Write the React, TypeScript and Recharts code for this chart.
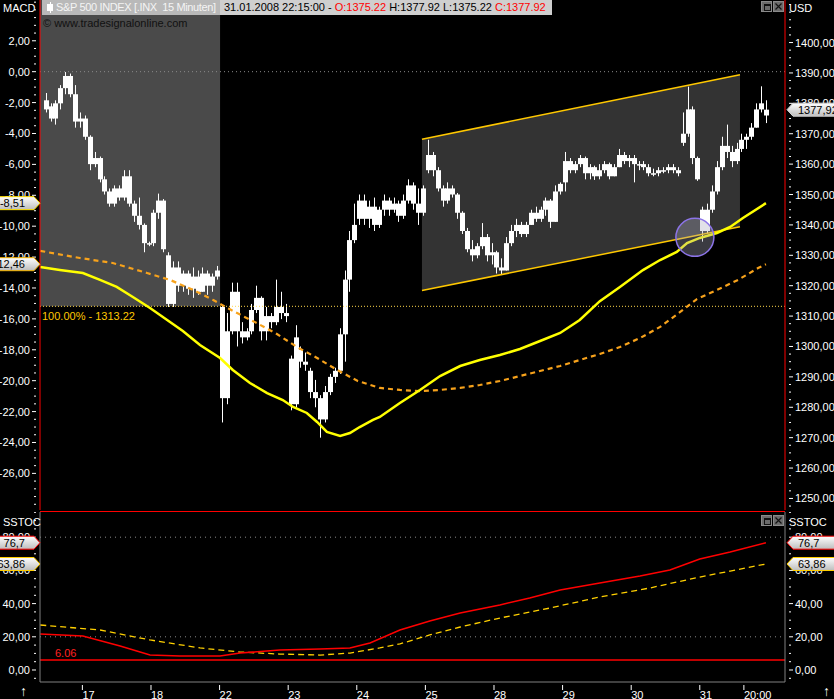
import React from "react";
import {
  ComposedChart,
  Bar,
  Line,
  Area,
  XAxis,
  YAxis,
  ReferenceLine,
  ReferenceArea,
  ReferenceDot,
} from "recharts";

type Ohlc = [number, number, number, number];

// 30 minute bars (open, high, low, close), one array per trading day
const bars16: Ohlc[] = [
  [1378, 1383.4, 1377, 1381], [1379, 1380, 1374, 1375], [1375, 1381, 1373, 1380], [1380, 1386, 1378, 1385],
  [1385, 1390.3, 1383, 1389], [1389, 1389.8, 1382, 1383], [1383, 1386, 1372, 1374], [1374, 1377, 1372, 1375],
];
const bars17: Ohlc[] = [
  [1375, 1376, 1368, 1369], [1369, 1369.5, 1358, 1360], [1360, 1364, 1359, 1362], [1362, 1362.5, 1354, 1355],
  [1355, 1356, 1350, 1351], [1351, 1352, 1346, 1347], [1347, 1353, 1346, 1352], [1352, 1353, 1348, 1349],
  [1349, 1358, 1348, 1356], [1356, 1358, 1346, 1347], [1347, 1348, 1341, 1343], [1343, 1349, 1338.5, 1340],
  [1340, 1340.5, 1331, 1334], [1334, 1334.5, 1333, 1333.5],
];
const bars18: Ohlc[] = [
  [1334, 1345, 1333, 1344], [1344, 1350.3, 1342, 1348], [1348, 1348.5, 1331, 1332], [1330, 1331, 1313, 1314],
  [1314, 1328, 1313, 1326], [1326, 1328, 1318, 1320], [1320, 1325, 1318, 1324], [1324, 1325, 1317, 1319],
  [1319, 1326, 1316, 1323], [1323, 1325, 1317, 1318], [1318, 1326, 1318, 1324], [1324, 1325, 1317, 1320],
  [1320, 1324, 1318, 1323], [1323, 1326.5, 1322, 1325],
];
const bars22: Ohlc[] = [
  [1313, 1313.5, 1275, 1283], [1283, 1311, 1281, 1305], [1305, 1321, 1304, 1318], [1318, 1321, 1300, 1305],
  [1305, 1308, 1301, 1303], [1303, 1306, 1302, 1305], [1305, 1314, 1304, 1312], [1312, 1320, 1311, 1316],
  [1316, 1316.5, 1302, 1305], [1305, 1313, 1302, 1310], [1310, 1311, 1306, 1308], [1308, 1322, 1307, 1313],
  [1313, 1318, 1309, 1311], [1311, 1314, 1308, 1310],
];
const bars23: Ohlc[] = [
  [1296, 1297, 1279, 1281], [1281, 1307, 1280, 1303], [1299, 1300, 1293, 1295], [1295, 1298, 1292, 1294],
  [1292, 1293, 1283, 1285], [1285, 1289, 1280, 1283], [1283, 1284, 1270, 1276], [1276, 1287, 1275, 1285],
  [1285, 1291, 1284, 1290], [1290, 1293, 1288, 1292], [1292, 1306, 1291, 1304], [1304, 1325, 1295, 1322],
  [1322, 1338, 1318, 1335], [1335, 1347, 1334, 1340],
];
const bars24: Ohlc[] = [
  [1342, 1350, 1340, 1348], [1348, 1350, 1340, 1342], [1342, 1348, 1339, 1346], [1346, 1349, 1338, 1340],
  [1340, 1346, 1339, 1345], [1345, 1350, 1343, 1348], [1348, 1349, 1343, 1345], [1345, 1349, 1344, 1347],
  [1347, 1348, 1341, 1343], [1343, 1350, 1342, 1348], [1348, 1355, 1347, 1353], [1353, 1354, 1345, 1347],
  [1347, 1352, 1340, 1344], [1344, 1353, 1343, 1352],
];
const bars25: Ohlc[] = [
  [1358, 1368, 1357, 1363], [1363, 1364, 1356, 1358], [1358, 1359, 1351, 1352], [1352, 1353, 1346, 1348],
  [1348, 1354, 1347, 1352], [1352, 1353, 1349, 1350], [1350, 1350.5, 1342, 1344], [1344, 1344.5, 1337, 1338],
  [1338, 1339, 1331, 1332], [1332, 1335, 1328, 1330], [1330, 1334, 1329, 1333], [1333, 1340.6, 1332, 1336],
  [1336, 1337, 1328, 1330], [1330, 1334, 1327, 1331],
];
const bars28: Ohlc[] = [
  [1331, 1331.5, 1324, 1326], [1326, 1329, 1323.5, 1325], [1325, 1336, 1325, 1334], [1334, 1340, 1333, 1338],
  [1338, 1342, 1336, 1340], [1340, 1341, 1336, 1337], [1337, 1341, 1336, 1340], [1340, 1345, 1340, 1344],
  [1344, 1346, 1341, 1342], [1342, 1346, 1341, 1345], [1345, 1349, 1343, 1348], [1348, 1348.5, 1339, 1341],
  [1341, 1353, 1341, 1351], [1351, 1354, 1350, 1353.5],
];
const bars29: Ohlc[] = [
  [1354, 1364, 1351, 1361], [1361, 1362, 1357, 1358], [1358, 1361, 1357, 1360], [1360, 1363, 1359, 1362],
  [1362, 1362.5, 1355, 1357], [1357, 1360, 1355, 1359], [1359, 1359.5, 1354.8, 1356], [1356, 1360, 1355, 1358],
  [1358, 1361, 1357, 1360], [1360, 1360.5, 1355, 1356], [1356, 1360, 1356, 1359], [1359, 1365, 1359, 1363],
  [1363, 1364, 1360, 1361], [1361, 1363, 1359, 1362],
];
const bars30: Ohlc[] = [
  [1362, 1363, 1354, 1360], [1360, 1361, 1358, 1360], [1360, 1361, 1358, 1359], [1359, 1360, 1356, 1357],
  [1357, 1358.5, 1356, 1357], [1357, 1359, 1356, 1358], [1358, 1359, 1357, 1358], [1358, 1360, 1357, 1359],
  [1359, 1360, 1357, 1358], [1358, 1359, 1356, 1357], [1367, 1377, 1366, 1370], [1370, 1385.5, 1369, 1378],
  [1378, 1379, 1360, 1362], [1362, 1362.5, 1354.5, 1355],
];
const bars31: Ohlc[] = [
  [1345, 1346, 1334.5, 1338], [1338, 1347, 1337, 1345], [1345, 1353, 1344, 1351], [1351, 1361, 1350, 1359],
  [1359, 1369, 1358, 1366], [1366, 1373, 1362, 1364], [1364, 1366, 1359, 1361], [1361, 1367, 1360, 1365],
  [1365, 1370, 1364, 1368], [1368, 1370, 1365, 1369], [1369, 1373.5, 1368, 1372], [1372, 1380, 1372, 1378],
  [1378, 1385.6, 1377, 1380], [1376, 1381, 1373.5, 1377.92],
];
const dayBars = [bars16, bars17, bars18, bars22, bars23, bars24, bars25, bars28, bars29, bars30, bars31];
const FIRST_SLOT = 6; // first bar of the 16th sits in slot 6 of 14

// MACD and its signal, [bar position, value]
const macdLine: [number, number][] = [
  [4.9, -12.64], [8.9, -12.83], [13.6, -13.03], [17.1, -13.48], [20.5, -13.93], [23.8, -14.58], [27.3, -15.3],
  [30.8, -16.07], [34.0, -16.78], [37.5, -17.69], [41.6, -18.53], [44.2, -19.31], [47.7, -20.15], [51.2, -20.8],
  [54.4, -21.25], [56.5, -21.7], [59.3, -22.09], [61.4, -22.67], [63.4, -23.32], [66.1, -23.58], [68.1, -23.39],
  [70.1, -23.0], [72.8, -22.54], [74.2, -22.35], [78.3, -21.44], [82.4, -20.6], [86.5, -19.7], [90.6, -19.05],
  [94.6, -18.66], [98.7, -18.34], [102.8, -17.95], [106.9, -17.43], [111.0, -16.91], [115.0, -16.07],
  [119.1, -14.85], [123.2, -13.93], [127.9, -12.84], [131.4, -12.19], [134.8, -11.67], [136.9, -11.09],
  [139.5, -10.76], [143.0, -10.44], [145.7, -10.05], [148.3, -9.47], [153.0, -8.51],
];
const macdSignal: [number, number][] = [
  [4.9, -11.6], [13.0, -12.06], [19.7, -12.38], [26.7, -13.03], [31.4, -13.48], [36.1, -14.13], [40.2, -14.78],
  [44.6, -15.55], [49.1, -16.27], [53.2, -16.98], [57.3, -17.82], [61.4, -18.53], [65.5, -19.31], [69.7, -20.02],
  [74.2, -20.47], [78.3, -20.6], [82.4, -20.67], [86.5, -20.6], [90.6, -20.47], [94.6, -20.28], [98.7, -20.02],
  [102.8, -19.7], [106.9, -19.37], [111.0, -19.05], [115.0, -18.66], [119.1, -18.27], [123.2, -17.82],
  [127.3, -17.24], [131.4, -16.52], [135.5, -15.55], [138.9, -14.72], [143.0, -14.13], [147.3, -13.48],
  [151.4, -12.71], [153.0, -12.46],
];

// slow stochastic
const stochK: [number, number][] = [
  [4.9, 21.7], [13.6, 20.5], [21.2, 14.5], [27.3, 9.0], [33.4, 8.4], [41.6, 8.4], [45.7, 10.2], [53.8, 12.0],
  [62.0, 12.7], [68.1, 13.3], [72.2, 16.3], [78.3, 24.1], [84.4, 29.5], [90.6, 34.3], [98.7, 39.2], [104.8, 43.4],
  [111.0, 48.2], [119.1, 52.4], [127.3, 56.6], [133.4, 60.2], [139.5, 66.9], [145.7, 71.1], [153.0, 76.7],
];
const stochD: [number, number][] = [
  [4.9, 27.1], [17.1, 24.1], [27.3, 18.1], [37.5, 13.3], [45.7, 10.8], [53.8, 9.6], [62.0, 9.0], [68.1, 10.2],
  [74.2, 13.3], [78.3, 15.7], [84.4, 21.1], [90.6, 25.9], [98.7, 31.3], [108.9, 37.3], [119.1, 44.0],
  [129.3, 49.4], [139.5, 56.0], [145.7, 59.6], [153.0, 63.86],
];

const dayTickPos = [13.5, 27.5, 41.5, 55.5, 69.5, 83.5, 97.5, 111.5, 125.5, 139.5, 148.5];
const dayTickLabels = ["17", "18", "22", "23", "24", "25", "28", "29", "30", "31", "20:00"];

const macdLabels = [2, 0, -2, -4, -6, -8, -10, -12, -14, -16, -18, -20, -22, -24, -26];
const priceLabels = [1400, 1390, 1380, 1370, 1360, 1350, 1340, 1330, 1320, 1310, 1300, 1290, 1280, 1270, 1260, 1250];
const stochLabels = [80, 60, 40, 20, 0];

// drawings
const highlightEnd = 41.6;
const retraceLevel = 1313.22;
const channelTime = [82.8, 147.7];
const channelUpper = [1368.2, 1389.4];
const channelLower = [1318.4, 1339.4];
const touchPoint = { k: 138.5, price: 1335.9 };

const lastClose = 1377.92;
const macdLast = -8.51;
const signalLast = -12.46;
const stochKLast = 76.7;
const stochDLast = 63.86;
const stochFloor = 6.06;

const X_DOMAIN: [number, number] = [4.85, 156.89];
const PRICE_DOMAIN: [number, number] = [1246.2, 1414.0];
const MACD_DOMAIN: [number, number] = [-28.37, 4.64];
const STOCH_DOMAIN: [number, number] = [-7.23, 95.18];

const FONT = "'Liberation Sans', Arial, sans-serif";

const candles = dayBars.flat().map(([o, h, l, c], i) => ({ k: FIRST_SLOT + i, o, h, l, c }));
const toPoints = (rows: [number, number][]) => rows.map(([k, v]) => ({ k, v }));
const channelData = channelTime.map((k, i) => ({ k, band: [channelLower[i], channelUpper[i]] }));

function tickRange(from: number, to: number, step: number) {
  const out: number[] = [];
  for (let v = from; v <= to + 1e-9; v += step) out.push(Math.round(v * 100) / 100);
  return out;
}

const fmt = (v: number) => v.toFixed(2).replace(".", ",");
const raw = (v: number) => String(v).replace(".", ",");

function makeYTick(side: "left" | "right", labels: number[]) {
  return (props: any) => {
    const { x, y, payload } = props;
    const v = payload.value as number;
    const major = labels.includes(v);
    const dir = side === "left" ? -1 : 1;
    const len = major ? 4 : 2;
    return (
      <g>
        <line x1={x + dir * 2} x2={x + dir * (2 + len)} y1={y} y2={y} stroke="#fff" />
        {major && (
          <text
            x={x + dir * 8}
            y={y + 4}
            textAnchor={side === "left" ? "end" : "start"}
            fill="#fff"
            fontSize={11}
            fontFamily={FONT}
          >
            {fmt(v)}
          </text>
        )}
      </g>
    );
  };
}

function XTick(props: any) {
  const { x, y, payload } = props;
  const i = dayTickPos.indexOf(payload.value);
  return (
    <g>
      <line x1={x} x2={x} y1={y + 1} y2={y + 6} stroke="#fff" />
      <text x={x} y={y + 15} fill="#fff" fontSize={11} fontFamily={FONT}>
        {dayTickLabels[i]}
      </text>
    </g>
  );
}

function Candle(props: any) {
  const { x, y, width, height, payload } = props;
  if (x == null || y == null || !payload) return null;
  const top = Math.min(y, y + height);
  const bottom = Math.max(y, y + height);
  const { o, h, l, c } = payload;
  const span = h - l || 1;
  const toY = (v: number) => top + ((h - v) / span) * (bottom - top);
  const cx = Math.round(x + width / 2) + 0.5;
  const bTop = toY(Math.max(o, c));
  const bBot = toY(Math.min(o, c));
  return (
    <g>
      <line x1={cx} x2={cx} y1={top} y2={bottom} stroke="#fff" strokeWidth={1} />
      <rect x={cx - 2.5} y={bTop} width={5} height={Math.max(1.5, bBot - bTop)} fill="#fff" />
    </g>
  );
}

function marker(text: string, border: string, sides: { left?: boolean; right?: boolean }) {
  return (props: any) => {
    const vb = props.viewBox || {};
    const y = vb.y;
    const l = vb.x;
    const r = vb.x + vb.width;
    if (y == null) return null;
    return (
      <g>
        {sides.left && (
          <g>
            <path
              d={`M-2,${y - 6.5} H${l - 6} L${l},${y} L${l - 6},${y + 6.5} H-2 Z`}
              fill="url(#markerFill)"
              stroke={border}
            />
            <text x={25} y={y + 4} textAnchor="end" fontSize={11} fill="#000" fontFamily={FONT}>
              {text}
            </text>
          </g>
        )}
        {sides.right && (
          <g>
            <path
              d={`M840,${y - 6.5} H${r + 8} L${r + 2},${y} L${r + 8},${y + 6.5} H840 Z`}
              fill="url(#markerFill)"
              stroke={border}
            />
            <text x={r + 13} y={y + 4} fontSize={11} fill="#000" fontFamily={FONT}>
              {text}
            </text>
          </g>
        )}
      </g>
    );
  };
}

const MarkerDefs = () => (
  <defs>
    <linearGradient id="markerFill" x1="0" y1="0" x2="0" y2="1">
      <stop offset="0%" stopColor="#ffffff" />
      <stop offset="100%" stopColor="#bdbdbd" />
    </linearGradient>
  </defs>
);

function WinButtons({ top }: { top: number }) {
  const box: React.CSSProperties = {
    width: 11,
    height: 11,
    background: "#6b6b6b",
    border: "1px solid #8a8a8a",
    boxSizing: "border-box",
  };
  return (
    <div style={{ position: "absolute", left: 761, top, display: "flex", gap: 1 }}>
      <div style={box}>
        <div style={{ margin: "2px 0 0 2px", width: 5, height: 4, border: "1px solid #111", borderTopWidth: 2 }} />
      </div>
      <div style={box}>
        <svg width={9} height={9} style={{ display: "block" }}>
          <path d="M1.5,1.5 L7.5,7.5 M7.5,1.5 L1.5,7.5" stroke="#111" strokeWidth={1.2} />
        </svg>
      </div>
    </div>
  );
}

function MainChart() {
  return (
    <ComposedChart width={834} height={510} data={candles} margin={{ top: 0, right: 0, bottom: 0, left: 0 }}>
      <MarkerDefs />
      <XAxis dataKey="k" type="number" domain={X_DOMAIN} hide allowDataOverflow />
      <YAxis
        yAxisId="macd"
        orientation="left"
        width={40}
        domain={MACD_DOMAIN}
        ticks={tickRange(-28, 4.5, 0.5)}
        interval={0}
        tickSize={0}
        tickLine={false}
        axisLine={{ stroke: "#ff0000" }}
        tick={makeYTick("left", macdLabels)}
        allowDataOverflow
      />
      <YAxis
        yAxisId="price"
        orientation="right"
        width={49}
        domain={PRICE_DOMAIN}
        ticks={tickRange(1247.5, 1412.5, 2.5)}
        interval={0}
        tickSize={0}
        tickLine={false}
        axisLine={{ stroke: "#ff0000" }}
        tick={makeYTick("right", priceLabels)}
        allowDataOverflow
      />
      <ReferenceArea
        yAxisId="price"
        x1={X_DOMAIN[0]}
        x2={highlightEnd}
        y1={retraceLevel}
        y2={PRICE_DOMAIN[1]}
        fill="#4a4a4a"
        fillOpacity={1}
        stroke="none"
      />
      <Area
        yAxisId="price"
        data={channelData}
        dataKey="band"
        type="linear"
        fill="#333333"
        fillOpacity={1}
        stroke="none"
        isAnimationActive={false}
      />
      <ReferenceLine
        yAxisId="price"
        segment={[{ x: channelTime[0], y: channelUpper[0] }, { x: channelTime[1], y: channelUpper[1] }]}
        stroke="#ffc800"
        strokeWidth={1.5}
      />
      <ReferenceLine
        yAxisId="price"
        segment={[{ x: channelTime[0], y: channelLower[0] }, { x: channelTime[1], y: channelLower[1] }]}
        stroke="#ffc800"
        strokeWidth={1.5}
      />
      <ReferenceLine yAxisId="macd" y={0} stroke="#8a8a8a" strokeDasharray="1 3" />
      <ReferenceLine
        yAxisId="price"
        y={retraceLevel}
        stroke="#ffd84a"
        strokeDasharray="1 2"
        label={(p: any) => (
          <text x={p.viewBox.x + 2} y={p.viewBox.y + 14} fill="#ffc800" fontSize={11} fontFamily={FONT}>
            100.00% - 1313.22
          </text>
        )}
      />
      <ReferenceDot
        yAxisId="price"
        x={touchPoint.k}
        y={touchPoint.price}
        r={19}
        fill="rgba(170,170,190,0.35)"
        stroke="#8c74e8"
        strokeWidth={1.5}
      />
      <Bar
        yAxisId="price"
        dataKey={(d: any) => [d.l, d.h]}
        barSize={4}
        shape={Candle}
        isAnimationActive={false}
      />
      <Line
        yAxisId="macd"
        data={toPoints(macdSignal)}
        dataKey="v"
        type="linear"
        stroke="#f7a21b"
        strokeWidth={2.2}
        strokeDasharray="5 4"
        dot={false}
        isAnimationActive={false}
      />
      <Line
        yAxisId="macd"
        data={toPoints(macdLine)}
        dataKey="v"
        type="linear"
        stroke="#ffff00"
        strokeWidth={2.5}
        dot={false}
        isAnimationActive={false}
      />
      <ReferenceLine yAxisId="macd" y={macdLast} stroke="none" zIndex={2500} label={marker(raw(macdLast), "#ffe000", { left: true })} />
      <ReferenceLine yAxisId="macd" y={signalLast} stroke="none" zIndex={2500} label={marker(raw(signalLast), "#f5b400", { left: true })} />
      <ReferenceLine yAxisId="price" y={lastClose} stroke="none" zIndex={2500} label={marker(raw(lastClose), "#d8d8d8", { right: true })} />
    </ComposedChart>
  );
}

function StochChart() {
  return (
    <ComposedChart width={834} height={187} margin={{ top: 0, right: 0, bottom: 0, left: 0 }}>
      <MarkerDefs />
      <XAxis
        dataKey="k"
        type="number"
        domain={X_DOMAIN}
        ticks={dayTickPos}
        interval={0}
        height={17}
        tickSize={0}
        tickLine={false}
        axisLine={{ stroke: "#808080" }}
        tick={XTick}
        allowDataOverflow
      />
      <YAxis
        yAxisId="sl"
        orientation="left"
        width={40}
        domain={STOCH_DOMAIN}
        ticks={tickRange(-5, 95, 5)}
        interval={0}
        tickSize={0}
        tickLine={false}
        axisLine={{ stroke: "#808080" }}
        tick={makeYTick("left", stochLabels)}
        allowDataOverflow
      />
      <YAxis
        yAxisId="sr"
        orientation="right"
        width={49}
        domain={STOCH_DOMAIN}
        ticks={tickRange(-5, 95, 5)}
        interval={0}
        tickSize={0}
        tickLine={false}
        axisLine={{ stroke: "#808080" }}
        tick={makeYTick("right", stochLabels)}
        allowDataOverflow
      />
      <ReferenceLine yAxisId="sl" y={80} stroke="#8a8a8a" strokeDasharray="1 4" />
      <ReferenceLine yAxisId="sl" y={20} stroke="#8a8a8a" strokeDasharray="1 4" />
      <ReferenceLine
        yAxisId="sl"
        y={stochFloor}
        stroke="#ff0000"
        strokeWidth={1.5}
        label={(p: any) => (
          <text x={p.viewBox.x + 15} y={p.viewBox.y - 3} fill="#ff2020" fontSize={11} fontFamily={FONT}>
            {String(stochFloor)}
          </text>
        )}
      />
      <Line
        yAxisId="sl"
        data={toPoints(stochD)}
        dataKey="v"
        type="linear"
        stroke="#ffd000"
        strokeWidth={1.3}
        strokeDasharray="6 4"
        dot={false}
        isAnimationActive={false}
      />
      <Line
        yAxisId="sl"
        data={toPoints(stochK)}
        dataKey="v"
        type="linear"
        stroke="#ff0000"
        strokeWidth={1.5}
        dot={false}
        isAnimationActive={false}
      />
      <ReferenceLine yAxisId="sl" y={stochKLast} stroke="none" zIndex={2500} label={marker(raw(stochKLast), "#ff0000", { left: true, right: true })} />
      <ReferenceLine yAxisId="sl" y={stochDLast} stroke="none" zIndex={2500} label={marker(raw(stochDLast), "#ffd000", { left: true, right: true })} />
    </ComposedChart>
  );
}

const label: React.CSSProperties = { position: "absolute", color: "#fff", fontSize: 11, lineHeight: "13px" };

export default function App() {
  return (
    <div
      style={{
        position: "absolute",
        left: 0,
        top: 0,
        width: 834,
        height: 699,
        background: "#000",
        overflow: "hidden",
        fontFamily: FONT,
      }}
    >
      <div style={{ position: "absolute", left: 0, top: 0 }}>
        <MainChart />
      </div>
      <div style={{ position: "absolute", left: 0, top: 512 }}>
        <StochChart />
      </div>
      <div style={{ position: "absolute", left: 40, top: 511, width: 745, height: 1, background: "#ff0000" }} />

      <div style={{ position: "absolute", left: 42, top: 0, height: 15, display: "flex", fontSize: 11, lineHeight: "15px", whiteSpace: "pre" }}>
        <div
          style={{
            width: 178,
            background: "#b9b9b9",
            color: "#f4f4f4",
            paddingLeft: 14,
            boxSizing: "border-box",
            position: "relative",
            letterSpacing: "-0.35px",
            overflow: "hidden",
          }}
        >
          <div style={{ position: "absolute", left: 7.5, top: 2, width: 1, height: 11, background: "#fff" }} />
          <div style={{ position: "absolute", left: 5, top: 4, width: 6, height: 7, background: "#fff" }} />
          {"S&P 500 INDEX [.INX  15 Minuten]"}
        </div>
        <div style={{ width: 332, background: "#cfcfcf", color: "#000", paddingLeft: 4, boxSizing: "border-box" }}>
          {"31.01.2008 22:15:00 - "}
          <span style={{ color: "#ff0000" }}>O:1375.22</span>
          {" H:1377.92 L:1375.22 "}
          <span style={{ color: "#ff0000" }}>C:1377.92</span>
        </div>
      </div>
      <div style={{ position: "absolute", left: 43, top: 17, fontSize: 11, color: "#111", lineHeight: "13px" }}>
        © www.tradesignalonline.com
      </div>

      <div style={{ ...label, left: 3, top: 2 }}>MACD</div>
      <div style={{ ...label, left: 789, top: 2 }}>USD</div>
      <div style={{ ...label, left: 3, top: 516 }}>SSTOC</div>
      <div style={{ ...label, left: 789, top: 516 }}>SSTOC</div>
      <WinButtons top={1} />
      <WinButtons top={515} />
      <div style={{ ...label, left: 20, top: 684, fontSize: 14, lineHeight: "15px" }}>↑</div>
      <div style={{ ...label, left: 823, top: 684, fontSize: 14, lineHeight: "15px" }}>↑</div>
    </div>
  );
}
